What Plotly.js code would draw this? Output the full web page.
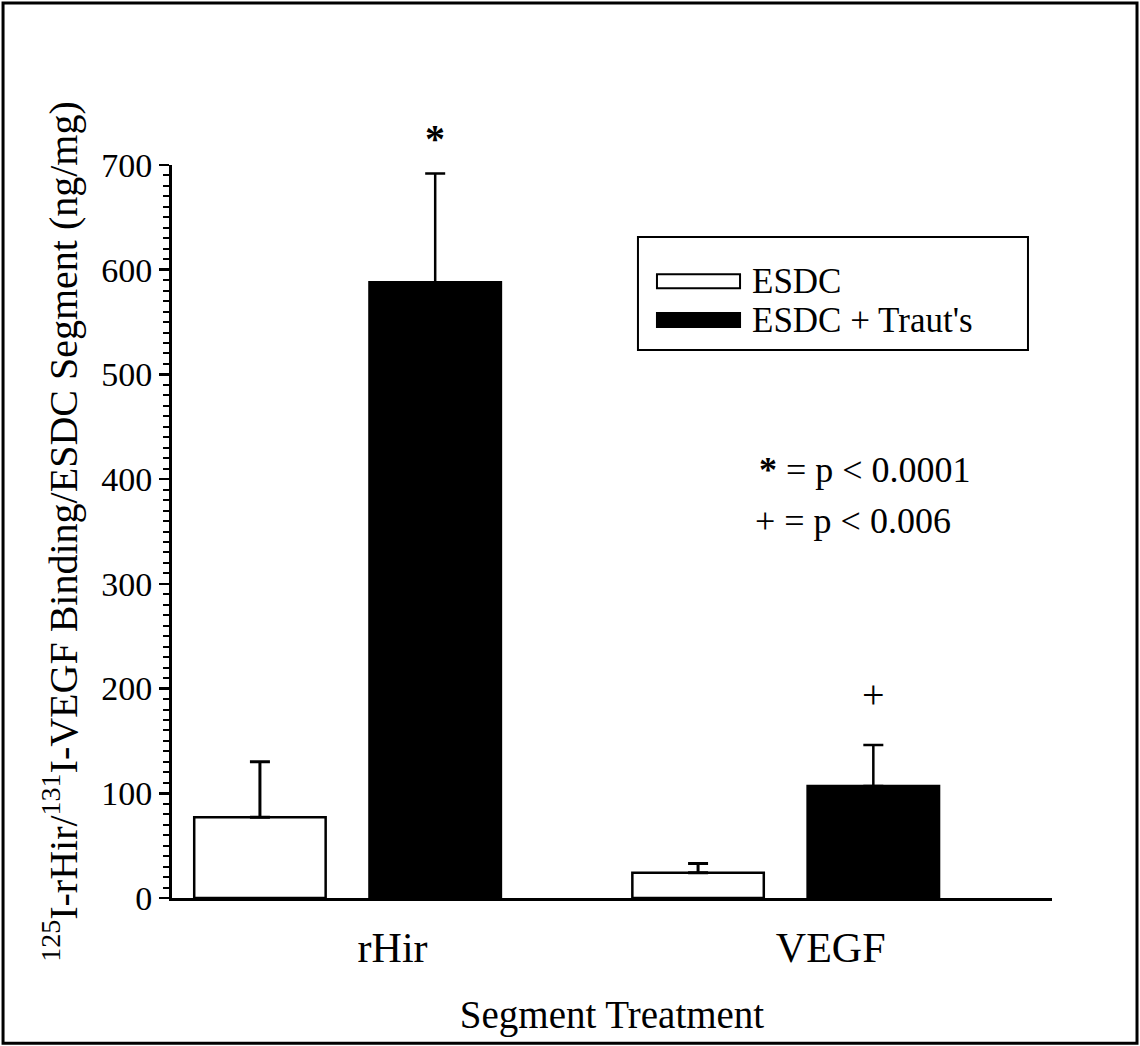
<!DOCTYPE html>
<html>
<head>
<meta charset="utf-8">
<script src="https://cdn.plot.ly/plotly-3.0.1.min.js"></script>
<style>
  html, body { margin: 0; padding: 0; background: #fff; }
  #chart { width: 1140px; height: 1046px; }
</style>
</head>
<body>
<div id="chart"></div>
<script>
// ---- data ----
const categories = ['rHir', 'VEGF'];
const seriesNames = ['ESDC', "ESDC + Traut's"];
const esdcMean = [77, 24];
const esdcErr = [53, 9];
const trautMean = [588, 107];
const trautErr = [104, 39];
const yTickVals = [0, 100, 200, 300, 400, 500, 600, 700];
const sigMarks = ['<b>*</b>', '+'];
const pNotes = ['<b>*</b> = p < 0.0001', '+ = p < 0.006'];
const xTitle = 'Segment Treatment';
const yTitle = '<sup>125</sup>I-rHir/<sup>131</sup>I-VEGF Binding/ESDC Segment (ng/mg)';

const FONT = 'Liberation Serif, Times New Roman, serif';
const seriesFill = ['#ffffff', '#000000'];

const traces = [
  {
    type: 'bar', name: seriesNames[0], x: categories, y: esdcMean,
    width: 0.3, offset: -0.35,
    marker: { color: seriesFill[0], line: { color: '#000000', width: 2.5 } },
    error_y: { type: 'data', symmetric: false, array: esdcErr, arrayminus: esdcMean.map(() => 0),
               color: '#000000', thickness: 3, width: 10 }
  },
  {
    type: 'bar', name: seriesNames[1], x: categories, y: trautMean,
    width: 0.3, offset: 0.05,
    marker: { color: seriesFill[1], line: { color: '#000000', width: 2.5 } },
    error_y: { type: 'data', symmetric: false, array: trautErr, arrayminus: trautMean.map(() => 0),
               color: '#000000', thickness: 2.5, width: 10 }
  }
];

const sigShift = [10, 26];
const annotations = sigMarks.map((m, i) => ({
  x: i + 0.2, xref: 'x', y: trautMean[i] + trautErr[i], yref: 'y',
  text: m, showarrow: false, yanchor: 'bottom', yshift: sigShift[i],
  font: { family: FONT, size: 40, color: '#000' }
}));
annotations.push(
  { x: 0.788, xref: 'paper', y: 0.584, yref: 'paper', text: pNotes[0], showarrow: false,
    xanchor: 'center', yanchor: 'middle', font: { family: FONT, size: 36, color: '#000' } },
  { x: 0.774, xref: 'paper', y: 0.515, yref: 'paper', text: pNotes[1], showarrow: false,
    xanchor: 'center', yanchor: 'middle', font: { family: FONT, size: 36, color: '#000' } }
);

// custom legend (wide swatches like the original)
const legendRowsY = [0.8415, 0.7885];
seriesNames.forEach((n, i) => {
  annotations.push({
    x: 0.657, xref: 'paper', y: legendRowsY[i], yref: 'paper', text: n, showarrow: false,
    xanchor: 'left', yanchor: 'middle', font: { family: FONT, size: 35, color: '#000' }
  });
});
const shapes = [
  { type: 'rect', xref: 'paper', yref: 'paper',
    x0: -0.192, x1: 1.0966, y0: -0.198, y1: 1.221,
    line: { color: '#000', width: 3 }, fillcolor: 'rgba(0,0,0,0)' },
  { type: 'rect', xref: 'paper', yref: 'paper',
    x0: 0.5295, x1: 0.9727, y0: 0.7475, y1: 0.9018,
    line: { color: '#000', width: 2 }, fillcolor: '#ffffff', layer: 'below' }
];
seriesNames.forEach((n, i) => {
  shapes.push({
    type: 'rect', xref: 'paper', yref: 'paper',
    x0: 0.5511, x1: 0.6455, y0: legendRowsY[i] - 0.0095, y1: legendRowsY[i] + 0.0095,
    line: { color: '#000', width: 2 }, fillcolor: seriesFill[i]
  });
});

const layout = {
  width: 1140, height: 1046,
  margin: { l: 172, r: 88, t: 165, b: 148, pad: 0 },
  paper_bgcolor: '#ffffff', plot_bgcolor: '#ffffff',
  font: { family: FONT, color: '#000', size: 32 },
  barmode: 'overlay',
  showlegend: false,
  xaxis: {
    type: 'category', range: [-0.4007, 1.6078],
    showline: true, linecolor: '#000', linewidth: 3, mirror: false,
    ticks: '', showgrid: false, zeroline: false,
    tickfont: { family: FONT, size: 42 }, ticklabelshift: 45, ticklabelstandoff: 11,
    title: { text: xTitle, font: { family: FONT, size: 39 }, standoff: 31 }
  },
  yaxis: {
    range: [0, 700], tickvals: yTickVals,
    showline: true, linecolor: '#000', linewidth: 3,
    ticks: 'outside', ticklen: 10, tickwidth: 2.5, tickcolor: '#000',
    minor: { dtick: 10, ticks: 'outside', ticklen: 6, tickwidth: 2, tickcolor: '#000', showgrid: false },
    showgrid: false, zeroline: false,
    tickfont: { family: FONT, size: 34 },
    title: { text: yTitle, font: { family: FONT, size: 40 }, standoff: 12 }
  },
  annotations: annotations,
  shapes: shapes
};

Plotly.newPlot('chart', traces, layout, { displayModeBar: false, staticPlot: true });
</script>
</body>
</html>
